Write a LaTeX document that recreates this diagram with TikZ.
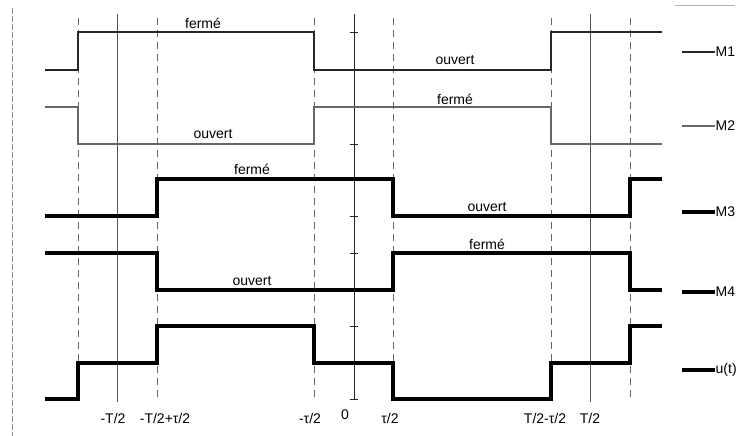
\documentclass[tikz,border=0pt]{standalone}
\usepackage{fontspec}
\setmainfont{Liberation Sans}
\begin{document}
\begin{tikzpicture}[x=1pt,y=-1pt,
  guide/.style={draw=black!60, line width=0.7pt, dash pattern=on 7pt off 5pt},
  halfper/.style={draw=black!65, line width=0.7pt},
  axisline/.style={draw=black!85, line width=0.8pt},
  sigone/.style={draw=black!85, line width=2.6pt, line join=miter},
  sigtwo/.style={draw=black!60, line width=2pt, line join=miter},
  sigthick/.style={draw=black, line width=3.2pt, line join=miter},
  sigout/.style={draw=black, line width=3.8pt, line join=miter},
  lbl/.style={font=\fontsize{14}{16}\selectfont, inner sep=0pt, anchor=base},
  leg/.style={font=\fontsize{14}{16}\selectfont, inner sep=0.5pt, anchor=west},
  edge/.style={draw=black!45, line width=0.6pt}]
\useasboundingbox (0,0) rectangle (740,436);

% frame remnants
\draw[edge, dash pattern=on 6pt off 2pt] (12,8) -- (12,436);
\draw[edge, draw=black!30] (675,5) -- (735,5);

% switching instants (dashed) and half periods (thin solid)
\foreach \x in {78,157,314,393,551,630}
  \draw[guide] (\x,18) -- (\x,401);
\foreach \x in {117,590}
  \draw[halfper] (\x,14) -- (\x,402);

% time axis with level ticks
\draw[axisline] (354,14) -- (354,399);
\foreach \y in {32,70,107,144,179,216,253,290,326,363,399}
  \draw[axisline] (350,\y) -- (358,\y);

% switch states
\draw[sigone] (45,70) -- (78,70) -- (78,32) -- (314,32) -- (314,70) -- (551,70) -- (551,32) -- (662,32);
\draw[sigtwo] (45,107) -- (78,107) -- (78,144) -- (314,144) -- (314,107) -- (551,107) -- (551,144) -- (662,144);
\draw[sigthick] (45,216) -- (157,216) -- (157,179) -- (393,179) -- (393,216) -- (630,216) -- (630,179) -- (662,179);
\draw[sigthick] (45,253) -- (157,253) -- (157,290) -- (393,290) -- (393,253) -- (630,253) -- (630,290) -- (662,290);

% output voltage
\draw[sigout] (45,399) -- (78,399) -- (78,363) -- (157,363) -- (157,326) -- (314,326) -- (314,363) -- (393,363) -- (393,399) -- (551,399) -- (551,363) -- (630,363) -- (630,326) -- (662,326);

% state labels
\node[lbl] (m1f) at (203,28.5) {fermé};
\node[lbl] (m2o) at (213,139) {ouvert};
\node[lbl] (m1o) at (455,65) {ouvert};
\node[lbl] (m2f) at (455,104.5) {fermé};
\node[lbl] (m3f) at (252,175) {fermé};
\node[lbl] (m4o) at (252,285) {ouvert};
\node[lbl] (m3o) at (487,211.5) {ouvert};
\node[lbl] (m4f) at (487,249.5) {fermé};

% time labels
\node[lbl] (tA) at (113,423) {-T/2};
\node[lbl] (tB) at (165,423) {-T/2+τ/2};
\node[lbl] (tC) at (310,423) {-τ/2};
\node[lbl] (tD) at (345,419) {0};
\node[lbl] (tE) at (390,423) {τ/2};
\node[lbl] (tF) at (545,423) {T/2-τ/2};
\node[lbl] (tG) at (590,423) {T/2};

% legend
\node[leg] (lM1) at (715,52) {M1};
\node[leg] (lM2) at (715,126) {M2};
\node[leg] (lM3) at (715,212) {M3};
\node[leg] (lM4) at (715,292) {M4};
\node[leg] (lU)  at (715,370) {u(t)};
\coordinate (kM1) at (682,52);
\coordinate (kM2) at (682,126);
\coordinate (kM3) at (682,212);
\coordinate (kM4) at (682,292);
\coordinate (kU)  at (682,370);
\draw[sigone] (kM1) -- (lM1.west);
\draw[sigtwo] (kM2) -- (lM2.west);
\draw[sigthick] (kM3) -- (lM3.west);
\draw[sigthick] (kM4) -- (lM4.west);
\draw[sigout] (kU) -- (lU.west);
\end{tikzpicture}
\end{document}
